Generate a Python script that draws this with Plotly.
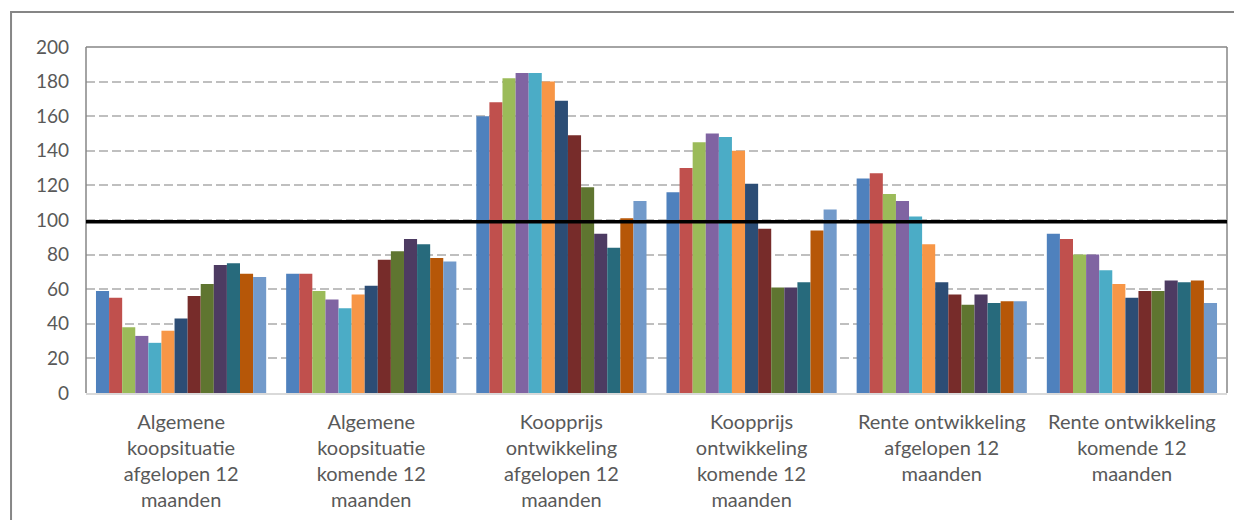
import plotly.graph_objects as go

categories = [
    "Algemene<br>koopsituatie<br>afgelopen 12<br>maanden",
    "Algemene<br>koopsituatie<br>komende 12<br>maanden",
    "Koopprijs<br>ontwikkeling<br>afgelopen 12<br>maanden",
    "Koopprijs<br>ontwikkeling<br>komende 12<br>maanden",
    "Rente ontwikkeling<br>afgelopen 12<br>maanden",
    "Rente ontwikkeling<br>komende 12<br>maanden",
]

s01 = [59, 69, 160, 116, 124, 92]
s02 = [55, 69, 168, 130, 127, 89]
s03 = [38, 59, 182, 145, 115, 80]
s04 = [33, 54, 185, 150, 111, 80]
s05 = [29, 49, 185, 148, 102, 71]
s06 = [36, 57, 180, 140, 86, 63]
s07 = [43, 62, 169, 121, 64, 55]
s08 = [56, 77, 149, 95, 57, 59]
s09 = [63, 82, 119, 61, 51, 59]
s10 = [74, 89, 92, 61, 57, 65]
s11 = [75, 86, 84, 64, 52, 64]
s12 = [69, 78, 101, 94, 53, 65]
s13 = [67, 76, 111, 106, 53, 52]

series = [s01, s02, s03, s04, s05, s06, s07, s08, s09, s10, s11, s12, s13]
series_names = ["Serie %d" % (i + 1) for i in range(len(series))]
colors = ["#4F81BD", "#C0504D", "#9BBB59", "#8064A2", "#4BACC6", "#F79646",
          "#2C4D75", "#772C2A", "#5F7530", "#4D3B62", "#276A7C", "#B65708",
          "#729ACA"]

reference_level = 99
y_ticks = [0, 20, 40, 60, 80, 100, 120, 140, 160, 180, 200]

fig = go.Figure()
for name, vals, col in zip(series_names, series, colors):
    fig.add_trace(go.Bar(
        x=list(range(len(categories))), y=vals, name=name,
        marker=dict(color=col, line=dict(width=0)),
    ))

FONT = "Lato"
fig.update_layout(
    width=1234, height=520,
    margin=dict(l=86, r=7, t=47, b=127),
    paper_bgcolor="white", plot_bgcolor="white",
    barmode="group", bargap=0.105, bargroupgap=0,
    showlegend=False,
    font=dict(family=FONT, size=18, color="#595959"),
    xaxis=dict(
        tickvals=list(range(len(categories))), ticktext=categories,
        range=[-0.5, len(categories) - 0.5],
        showgrid=False, zeroline=False,
        showline=True, linecolor="#D9D9D9", linewidth=2,
        ticks="", ticklabelstandoff=10,
        tickfont=dict(family=FONT, size=20, color="#595959"),
    ),
    yaxis=dict(
        range=[0, 200], tickvals=y_ticks,
        showgrid=True, gridcolor="#BFBFBF", gridwidth=1.5, griddash="9px,4px",
        zeroline=False, showline=False,
        ticks="", ticklabelstandoff=16,
        tickfont=dict(family=FONT, size=19, color="#595959"),
    ),
)

# plot area border (left, top, right)
border = dict(color="#868686", width=1.5)
fig.add_shape(type="line", xref="paper", yref="paper", x0=0, x1=0, y0=0, y1=1, line=border, layer="above")
fig.add_shape(type="line", xref="paper", yref="paper", x0=0, x1=1, y0=1, y1=1, line=border, layer="above")
fig.add_shape(type="line", xref="paper", yref="paper", x0=1, x1=1, y0=0, y1=1, line=border, layer="above")

# outer chart border
fig.add_shape(type="rect", xref="paper", yref="paper",
              x0=-0.0657, x1=1.02, y0=-0.40, y1=1.101,
              line=dict(color="#868686", width=2), layer="below")

# reference line
fig.add_shape(type="line", xref="paper", yref="y", x0=0, x1=1,
              y0=reference_level, y1=reference_level,
              line=dict(color="black", width=3.5), layer="above")

fig.write_html("out.html",
               config={"displayModeBar": False},
               post_script="document.body.style.margin='0';document.body.style.overflow='hidden';")
